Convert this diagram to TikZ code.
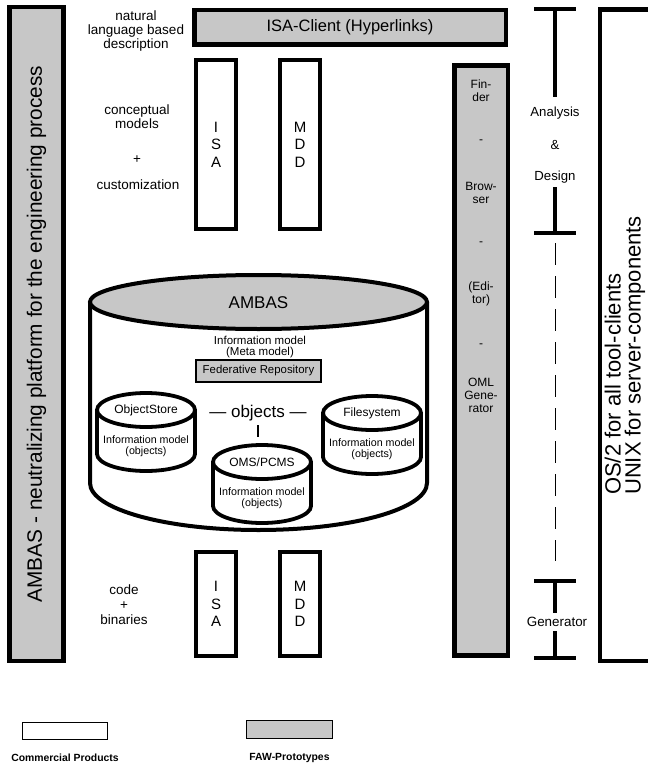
\documentclass[tikz,border=0pt]{standalone}
\usepackage{fontspec}
\setmainfont{Liberation Sans}
\usepackage{tikz}
\lineskiplimit=-100pt
\colorlet{protofill}{black!22}

\begin{document}
\begin{tikzpicture}[x=1pt, y=-1pt,
    probox/.style={draw, line width=4.5pt, inner sep=0pt, align=center},
    proto/.style={probox, fill=protofill},
    product/.style={probox, fill=white},
    txt/.style 2 args={font=\fontsize{#1}{#2}\selectfont, align=center, inner sep=1pt},
    tbar/.style={line width=4.5pt},
    stem/.style={line width=4pt},
    cyl/.style={draw, line width=3.8pt, fill=white}]
  \useasboundingbox (0,0) rectangle (648,765);
  % platform bars left and right
  \node[proto, rotate=90, minimum width=654pt, minimum height=54pt, txt={20.8}{24}]
    (platform) at (36.5,334) {AMBAS - neutralizing platform for the engineering process};
  \draw[line width=4.5pt] (648,9.5) -- (600,9.5) -- (600,661) -- (648,661);
  \node[rotate=90, anchor=west, align=left, inner sep=0pt, font=\fontsize{22}{20}\selectfont]
    (osnote) at (625,495) {OS/2 for all tool-clients\\UNIX for server-components};
  % top client
  \node[proto, minimum width=311.5pt, minimum height=34.5pt, txt={16.5}{18}]
    (client) at (350,27.5) {ISA-Client (Hyperlinks)};
  \node[txt={13.5}{14}] (natural) at (136,31) {natural\\language based\\description};
  \node[txt={13.5}{14}] (concept) at (137,117) {conceptual\\models};
  \node[txt={13.5}{14}] (plus) at (137,160) {+};
  \node[txt={13.5}{14}] (custom) at (138,185) {customization};
  \node[txt={13.5}{15}] (code) at (124,605) {code\\+\\binaries};
  % ISA and MDD, top and bottom
  \foreach \n/\x/\y/\h/\t in {isaT/216/144.5/169/{I\\S\\A}, mddT/300/144.5/169/{M\\D\\D},
                              isaB/216/604/104/{I\\S\\A}, mddB/300/604/104/{M\\D\\D}} {
    \node[product, minimum width=40pt, minimum height=\h pt, txt={15}{17.5}] (\n) at (\x,\y) {\t};
  }
  % tool column
  \node[proto, minimum width=53.5pt, minimum height=590pt] (finder) at (481,360.5) {};
  \foreach \n/\y/\t in {f1/91/{Fin-\\der}, f2/142/-, f3/193/{Brow-\\ser}, f4/244/-,
                        f5/294/{(Edi-\\tor)}, f6/346/-, f7/395/{OML\\Gene-\\rator}} {
    \node[txt={12}{13}] (\n) at (481,\y) {\t};
  }
  % AMBAS repository
  \filldraw[cyl, line width=4pt] (90,302) -- (90,483)
    arc[start angle=180, end angle=360, x radius=168.5pt, y radius=47pt] -- (427,302);
  \filldraw[cyl, line width=4pt, fill=protofill] (258.5,302) ellipse[x radius=168.5pt, y radius=27pt];
  \node[txt={17}{18}] (ambas) at (258.5,303) {AMBAS};
  \node[txt={11.5}{11.5}] (metamodel) at (260,347) {Information model\\(Meta model)};
  \node[draw, line width=1.2pt, fill=protofill, minimum width=125pt, minimum height=22pt,
    txt={11.4}{12}] (federative) at (258.5,371) {Federative Repository};
  \foreach \n/\cx/\cy/\t in {ostore/146/410/ObjectStore, oms/262/462/{OMS/PCMS},
                             fsys/372/413/Filesystem} {
    \filldraw[cyl] (\cx-49,\cy) -- (\cx-49,\cy+44)
      arc[start angle=180, end angle=360, x radius=49pt, y radius=17pt] -- (\cx+49,\cy);
    \filldraw[cyl] (\cx,\cy) ellipse[x radius=49pt, y radius=17pt];
    \node[txt={12}{13}] (\n) at (\cx,\cy) {\t};
    \node[txt={10.7}{11}] (\n-info) at (\cx,\cy+36) {Information model\\(objects)};
  }
  \node[txt={17}{18}] (objects) at (258,413) {--- objects ---};
  \draw[line width=1.2pt, shorten <=3pt, shorten >=19pt] (objects) -- (objects |- oms.north);
  % analysis & design / generator markers
  \coordinate (adTop) at (555,9);
  \coordinate (adMid) at (555,97);
  \coordinate (desTop) at (555,187);
  \coordinate (desBar) at (555,233);
  \coordinate (genBar) at (555,581);
  \coordinate (genMid) at (555,613);
  \coordinate (genLow) at (555,631);
  \coordinate (genBot) at (555,658);
  \foreach \c in {adTop, desBar, genBar, genBot} {
    \draw[tbar] (\c) ++(-21,0) -- ++(42,0);
  }
  \draw[stem] (adTop) -- (adMid) (desTop) -- (desBar) (genBar) -- (genMid) (genLow) -- (genBot);
  \draw[dash pattern=on 22pt off 11pt, line width=1pt, shorten <=10pt, shorten >=20pt] (desBar) -- (genBar);
  \node[txt={13.2}{14}] (analysis) at (555,113) {Analysis};
  \node[txt={13.2}{14}] (amp) at (555,145) {\&};
  \node[txt={13.2}{14}] (design) at (555,177) {Design};
  \node[txt={13.4}{14}] (generator) at (557,622) {Generator};
  % legend
  \node[draw, line width=1.2pt, minimum width=85pt, minimum height=17pt] (commercial) at (65,731) {};
  \node[txt={10.4}{12}, font=\fontsize{10.4}{12}\selectfont\bfseries] (commercial-label) at (65,758) {Commercial Products};
  \node[draw, line width=1.2pt, fill=protofill, minimum width=86pt, minimum height=18pt] (prototype) at (289.5,729.5) {};
  \node[txt={10.4}{12}, font=\fontsize{10.4}{12}\selectfont\bfseries] (prototype-label) at (289.5,758) {FAW-Prototypes};
\end{tikzpicture}
\end{document}
